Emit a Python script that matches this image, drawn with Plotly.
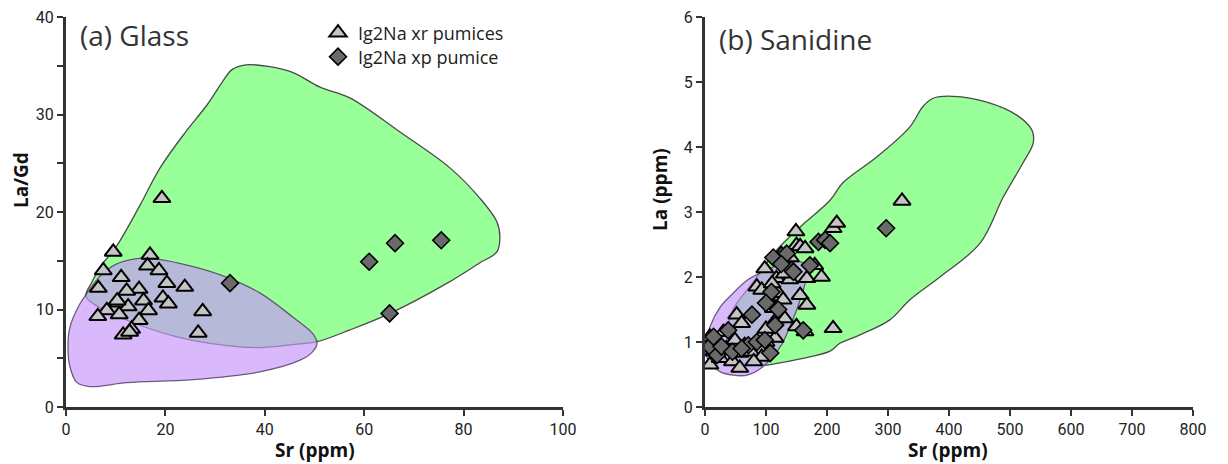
import plotly.graph_objects as go

W, H = 1228, 464

# ---------------- Panel (a) Glass: Sr (ppm) vs La/Gd ----------------
a_tri_sr = [19.3, 9.5, 16.9, 16.4, 7.5, 18.7, 11.1, 20.3, 23.9, 6.5, 14.7, 12.2,
            19.5, 15.6, 10.5, 20.6, 8.2, 12.5, 16.6, 27.5, 6.4, 10.7, 14.7, 13.2,
            11.5, 26.6, 10.3, 12.8]
a_tri_lagd = [21.4, 15.9, 15.6, 14.5, 14.0, 14.0, 13.3, 12.7, 12.3, 12.2, 12.1, 11.9,
              11.2, 10.9, 10.7, 10.6, 9.9, 10.3, 9.9, 9.8, 9.3, 9.5, 8.9, 8.0,
              7.4, 7.6, 10.9, 7.7]
a_dia_sr = [33.0, 61.0, 65.1, 66.2, 75.5]
a_dia_lagd = [12.7, 14.9, 9.6, 16.8, 17.1]

a_green_x = [4.0, 5.2, 6.8, 10.3, 14.9, 18.9, 23.9, 28.4, 31.4, 33.4, 36.2, 41.0, 45.7,
             51.1, 57.1, 67.2, 77.3, 83.3, 86.7, 87.3, 86.7, 83.3, 76.7, 65.2, 57.1,
             50.5, 45.7, 39.0, 32.4, 22.3, 12.3, 5.8, 4.0]
a_green_y = [11.4, 12.8, 14.3, 16.6, 20.7, 24.5, 28.1, 31.0, 33.3, 34.6, 35.1, 34.9, 34.3,
             32.8, 31.7, 28.2, 24.5, 21.4, 19.0, 17.4, 15.9, 14.8, 12.7, 9.6, 7.9,
             6.7, 6.4, 6.1, 6.3, 7.2, 8.9, 10.5, 11.4]
a_purple_x = [4.4, 6.8, 9.9, 13.9, 17.9, 25.6, 32.4, 39.0, 45.7, 49.7, 50.5, 49.5, 47.1,
              39.0, 25.6, 12.3, 4.8, 2.2, 0.8, 0.4, 0.8, 2.4, 4.4]
a_purple_y = [11.8, 13.4, 14.6, 15.2, 15.2, 14.4, 13.3, 11.7, 9.2, 7.5, 6.5, 5.6, 4.8,
              3.6, 2.8, 2.5, 2.1, 2.5, 4.1, 6.4, 8.2, 10.2, 11.8]

# ---------------- Panel (b) Sanidine: Sr (ppm) vs La (ppm) ----------------
b_tri_sr = [8, 8, 15, 20, 25, 30, 35, 45, 49, 52, 57, 57, 60, 65, 75, 85, 93, 93, 98, 100,
            105, 112, 115, 117, 118, 120, 128, 131, 139, 149, 150, 150, 156, 156, 164, 164,
            167, 167, 180, 191, 210, 210, 216, 323, 140, 130, 110, 100, 80, 125]
b_tri_la = [0.65, 1.08, 0.85, 1.0, 0.75, 1.15, 0.9, 0.7, 1.03, 1.42, 0.6, 0.83, 1.29, 0.95,
            0.85, 1.85, 0.77, 1.8, 2.13, 1.0, 1.65, 1.52, 1.06, 1.98, 1.36, 1.75, 1.65, 1.36,
            1.96, 2.70, 2.49, 1.24, 1.72, 2.47, 2.44, 1.16, 1.98, 1.57, 2.18, 2.0, 2.75, 1.21,
            2.83, 3.17, 2.3, 2.05, 1.9, 1.2, 0.7, 2.35]
b_dia_sr = [8, 14, 20, 27, 38, 45, 71, 77, 85, 98, 107, 109, 112, 115, 120, 134, 142, 145,
            161, 172, 186, 197, 205, 297, 125, 60, 100]
b_dia_la = [0.93, 1.08, 0.8, 0.93, 1.18, 0.85, 0.95, 1.42, 1.0, 1.03, 0.83, 1.77, 2.30, 1.26,
            1.5, 2.36, 2.11, 2.08, 1.18, 2.18, 2.54, 2.57, 2.52, 2.75, 2.2, 0.9, 1.6]

b_green_x = [52, 38, 44, 79, 118, 156, 205, 226, 282, 336, 357, 374, 407, 462, 511, 536,
             538, 521, 489, 451, 385, 336, 303, 254, 221, 205, 156, 118, 90, 52]
b_green_y = [0.69, 1.03, 1.46, 1.92, 2.42, 2.77, 3.18, 3.45, 3.85, 4.31, 4.62, 4.75, 4.78,
             4.69, 4.49, 4.26, 4.06, 3.75, 3.23, 2.52, 2.0, 1.65, 1.34, 1.11, 0.98, 0.86,
             0.74, 0.67, 0.64, 0.69]
b_purple_x = [3, 8, 25, 46, 69, 102, 134, 161, 167, 156, 139, 123, 95, 69, 46, 25, 8, 0, 3]
b_purple_y = [1.03, 1.23, 1.54, 1.75, 1.95, 2.11, 2.22, 2.22, 2.06, 1.65, 1.23, 0.92, 0.62,
              0.49, 0.49, 0.54, 0.68, 0.88, 1.03]

# ---------------- styles ----------------
GREEN_FILL = "#99ff99"
GREEN_LINE = "#4a4a4a"
PURPLE_FILL = "rgba(197,149,249,0.66)"
PURPLE_LINE = "rgba(70,50,90,0.75)"
TRI_FILL = "#c4c4c4"
DIA_FILL = "#6a6a6a"
AX = "#333333"
TICKFONT = dict(family="Liberation Sans Narrow, Roboto, sans-serif", size=16, color="#222222")

fig = go.Figure()


def add_panel(xa, ya, gx, gy, px, py, tx, ty, dx, dy, show_legend):
    fig.add_trace(go.Scatter(x=gx, y=gy, mode="lines", fill="toself", fillcolor=GREEN_FILL,
                             line=dict(color=GREEN_LINE, width=1.3, shape="spline", smoothing=1.0),
                             xaxis=xa, yaxis=ya, showlegend=False, hoverinfo="skip"))
    fig.add_trace(go.Scatter(x=px, y=py, mode="lines", fill="toself", fillcolor=PURPLE_FILL,
                             line=dict(color=PURPLE_LINE, width=1.3, shape="spline", smoothing=1.0),
                             xaxis=xa, yaxis=ya, showlegend=False, hoverinfo="skip"))
    fig.add_trace(go.Scatter(x=tx, y=ty, mode="markers", name="Ig2Na xr pumices",
                             marker=dict(symbol="triangle-up", size=15, color=TRI_FILL,
                                         line=dict(color="#000000", width=2)),
                             xaxis=xa, yaxis=ya, showlegend=show_legend, legend="legend"))
    fig.add_trace(go.Scatter(x=dx, y=dy, mode="markers", name="Ig2Na xp pumice",
                             marker=dict(symbol="diamond", size=13, color=DIA_FILL,
                                         line=dict(color="#000000", width=1.6)),
                             xaxis=xa, yaxis=ya, showlegend=show_legend, legend="legend2"))


add_panel("x", "y", a_green_x, a_green_y, a_purple_x, a_purple_y,
          a_tri_sr, a_tri_lagd, a_dia_sr, a_dia_lagd, True)
add_panel("x2", "y2", b_green_x, b_green_y, b_purple_x, b_purple_y,
          b_tri_sr, b_tri_la, b_dia_sr, b_dia_la, False)

ydom = [(H - 407) / H, (H - 17) / H]
axis_common = dict(showline=True, linecolor=AX, linewidth=3, ticks="outside", tickcolor=AX,
                   tickwidth=2, ticklen=6, showgrid=False, zeroline=False, tickfont=TICKFONT,
                   mirror=False, automargin=False)

a_yticks = [0, 5, 10, 15, 20, 25, 30, 35, 40]
a_ytext = ["0", "", "10", "", "20", "", "30", "", "40"]

legend_font = dict(family="Open Sans, sans-serif", size=18, color="#222222")
leg_common = dict(xanchor="left", yanchor="middle", bgcolor="rgba(0,0,0,0)", font=legend_font,
                  itemwidth=30, borderwidth=0)

fig.update_layout(
    width=W, height=H,
    margin=dict(l=0, r=0, t=0, b=0, pad=0, autoexpand=False),
    paper_bgcolor="white", plot_bgcolor="white",
    xaxis=dict(domain=[66 / W, 563 / W], range=[0, 100], tickvals=[0, 20, 40, 60, 80, 100],
               anchor="y", **axis_common),
    yaxis=dict(domain=ydom, range=[0, 40], tickvals=a_yticks, ticktext=a_ytext,
               anchor="x", **axis_common),
    xaxis2=dict(domain=[705 / W, 1193 / W], range=[0, 800],
                tickvals=[0, 100, 200, 300, 400, 500, 600, 700, 800], anchor="y2", **axis_common),
    yaxis2=dict(domain=ydom, range=[0, 6], tickvals=[0, 1, 2, 3, 4, 5, 6],
                anchor="x2", **axis_common),
    legend=dict(x=318 / W, y=1 - 33 / H, **leg_common),
    legend2=dict(x=318 / W, y=1 - 57 / H, **leg_common),
    showlegend=True,
)

ann_font_title = dict(family="Open Sans, sans-serif", size=28, color="#333333")
axis_title_font = dict(family="Open Sans, sans-serif", size=19, color="#111111")

fig.add_annotation(text="(a) Glass", xref="paper", yref="paper", x=78 / W, y=1 - 35 / H,
                   xanchor="left", yanchor="middle", showarrow=False, font=ann_font_title)
fig.add_annotation(text="(b) Sanidine", xref="paper", yref="paper", x=717 / W, y=1 - 39 / H,
                   xanchor="left", yanchor="middle", showarrow=False, font=ann_font_title)
fig.add_annotation(text="<b>Sr (ppm)</b>", xref="paper", yref="paper", x=315 / W, y=1 - 450 / H,
                   xanchor="center", yanchor="middle", showarrow=False, font=axis_title_font)
fig.add_annotation(text="<b>Sr (ppm)</b>", xref="paper", yref="paper", x=948 / W, y=1 - 450 / H,
                   xanchor="center", yanchor="middle", showarrow=False, font=axis_title_font)
fig.add_annotation(text="<b>La/Gd</b>", xref="paper", yref="paper", x=21 / W, y=1 - 180 / H,
                   xanchor="center", yanchor="middle", showarrow=False, textangle=-90,
                   font=axis_title_font)
fig.add_annotation(text="<b>La (ppm)</b>", xref="paper", yref="paper", x=660 / W, y=1 - 190 / H,
                   xanchor="center", yanchor="middle", showarrow=False, textangle=-90,
                   font=axis_title_font)

fig.write_html("out.html")
